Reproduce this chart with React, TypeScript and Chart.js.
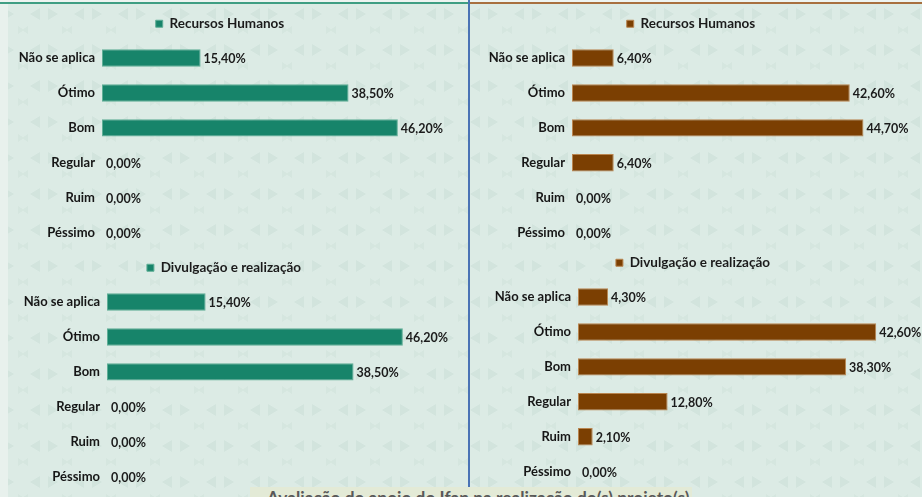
import React, { useEffect, useRef } from "react";
import { Chart, registerables } from "chart.js";

Chart.register(...registerables);

const categories = ["Não se aplica", "Ótimo", "Bom", "Regular", "Ruim", "Péssimo"];
const seriesTop = "Recursos Humanos";
const seriesBottom = "Divulgação e realização";
const topLeftValues = [15.4, 38.5, 46.2, 0, 0, 0];
const topRightValues = [6.4, 42.6, 44.7, 6.4, 0, 0];
const bottomLeftValues = [15.4, 46.2, 38.5, 0, 0, 0];
const bottomRightValues = [4.3, 42.6, 38.3, 12.8, 2.1, 0];
const axisMaxTopLeft = 52;
const axisMaxTopRight = 50;
const axisMaxBottomLeft = 52;
const axisMaxBottomRight = 45;
const footerTitle = "Avaliação do apoio do Ifap na realização do(s) projeto(s)";

const FONT = "Lato, 'Open Sans', sans-serif";
const GREEN = "#17846a";
const GREEN_BORDER = "#5fae96";
const BROWN = "#7b3f02";
const BROWN_BORDER = "#b98550";
const LABEL_ROOM = 55;

const fmt = (v: number) => v.toFixed(2).replace(".", ",") + "%";

const valueLabels = {
  id: "valueLabels",
  afterDatasetsDraw(chart: any) {
    const ctx = chart.ctx;
    const meta = chart.getDatasetMeta(0);
    const data = chart.data.datasets[0].data as number[];
    ctx.save();
    ctx.font = `bold 12.5px ${FONT}`;
    ctx.fillStyle = "#1b1b1b";
    ctx.textBaseline = "middle";
    ctx.textAlign = "left";
    meta.data.forEach((bar: any, i: number) => {
      const off = data[i] === 0 ? 4 : 3;
      ctx.fillText(fmt(data[i]), bar.x + off, bar.y + 1);
    });
    ctx.restore();
  },
};

type Props = {
  left: number;
  top: number;
  areaRight: number;
  height: number;
  padLeft: number;
  yWidth: number;
  max: number;
  values: number[];
  label: string;
  color: string;
  border: string;
};

function BarPanel(p: Props) {
  const ref = useRef<HTMLCanvasElement | null>(null);
  const width = p.areaRight + LABEL_ROOM;
  useEffect(() => {
    if (!ref.current) return;
    const chart = new Chart(ref.current, {
      type: "bar",
      data: {
        labels: categories,
        datasets: [
          {
            label: p.label,
            data: p.values,
            backgroundColor: p.color,
            borderColor: p.border,
            borderWidth: 1,
            borderSkipped: false,
            barPercentage: 0.5,
            categoryPercentage: 1,
          },
        ],
      },
      options: {
        indexAxis: "y",
        responsive: false,
        animation: false,
        layout: { padding: { top: 6, left: p.padLeft, right: LABEL_ROOM, bottom: 0 } },
        plugins: {
          legend: {
            display: true,
            position: "top",
            labels: {
              boxWidth: 7,
              boxHeight: 7,
              padding: 10,
              color: "#1b1b1b",
              font: { family: FONT, size: 13.5, weight: "bold" },
            },
          },
          tooltip: { enabled: false },
        },
        scales: {
          x: { display: false, min: 0, max: p.max },
          y: {
            grid: { display: false, drawTicks: false },
            border: { display: false },
            ticks: {
              color: "#161616",
              padding: 7,
              font: { family: FONT, size: 13, weight: "bold" },
            },
            afterFit: (scale: any) => {
              scale.width = p.yWidth;
            },
          },
        },
      },
      plugins: [valueLabels],
    });
    return () => chart.destroy();
  }, []);
  return (
    <canvas
      ref={ref}
      width={width}
      height={p.height}
      style={{ position: "absolute", left: p.left, top: p.top, width, height: p.height }}
    />
  );
}

const patternSvg =
  "data:image/svg+xml;utf8," +
  encodeURIComponent(
    `<svg xmlns='http://www.w3.org/2000/svg' width='44' height='36'>` +
      `<polygon points='4,8 14,14 4,20' fill='#d2e4dd'/>` +
      `<polygon points='40,8 30,14 40,20' fill='#d2e4dd'/>` +
      `<polygon points='18,26 24,30 18,34' fill='#d5e6df'/>` +
      `<polygon points='28,26 22,30 28,34' fill='#d5e6df'/>` +
      `</svg>`
  );

export default function App() {
  return (
    <div
      style={{
        position: "absolute",
        left: 0,
        top: 0,
        width: 922,
        height: 497,
        overflow: "hidden",
        backgroundColor: "#dcebe5",
        backgroundImage: `url("${patternSvg}")`,
        fontFamily: FONT,
      }}
    >
      <div style={{ position: "absolute", left: 0, top: 0, width: 8, height: 497, background: "#e8f1ed" }} />
      <div style={{ position: "absolute", left: 0, top: 0, width: 922, height: 2, background: "#eef4f1" }} />
      <div style={{ position: "absolute", left: 0, top: 2, width: 469, height: 2, background: "#3f9e83" }} />
      <div style={{ position: "absolute", left: 469, top: 2, width: 453, height: 2, background: "#a8703f" }} />
      <div style={{ position: "absolute", left: 468, top: 0, width: 2, height: 487, background: "#4a73b5" }} />
      <BarPanel left={0} top={1} areaRight={435} height={264} padLeft={5} yWidth={97} max={axisMaxTopLeft}
        values={topLeftValues} label={seriesTop} color={GREEN} border={GREEN_BORDER} />
      <BarPanel left={470} top={1} areaRight={428} height={264} padLeft={14} yWidth={88} max={axisMaxTopRight}
        values={topRightValues} label={seriesTop} color={BROWN} border={BROWN_BORDER} />
      <BarPanel left={0} top={245} areaRight={440} height={264} padLeft={8} yWidth={99} max={axisMaxBottomLeft}
        values={bottomLeftValues} label={seriesBottom} color={GREEN} border={GREEN_BORDER} />
      <BarPanel left={470} top={240} areaRight={423} height={264} padLeft={23} yWidth={85} max={axisMaxBottomRight}
        values={bottomRightValues} label={seriesBottom} color={BROWN} border={BROWN_BORDER} />
      <div
        style={{
          position: "absolute",
          left: 250,
          top: 487,
          width: 442,
          height: 20,
          background: "#e3ead6",
          overflow: "visible",
        }}
      >
        <div
          style={{
            position: "absolute",
            left: 17,
            top: 1,
            color: "#595959",
            fontSize: 17.3,
            fontWeight: "bold",
            lineHeight: "20px",
            whiteSpace: "nowrap",
          }}
        >
          {footerTitle}
        </div>
      </div>
    </div>
  );
}
